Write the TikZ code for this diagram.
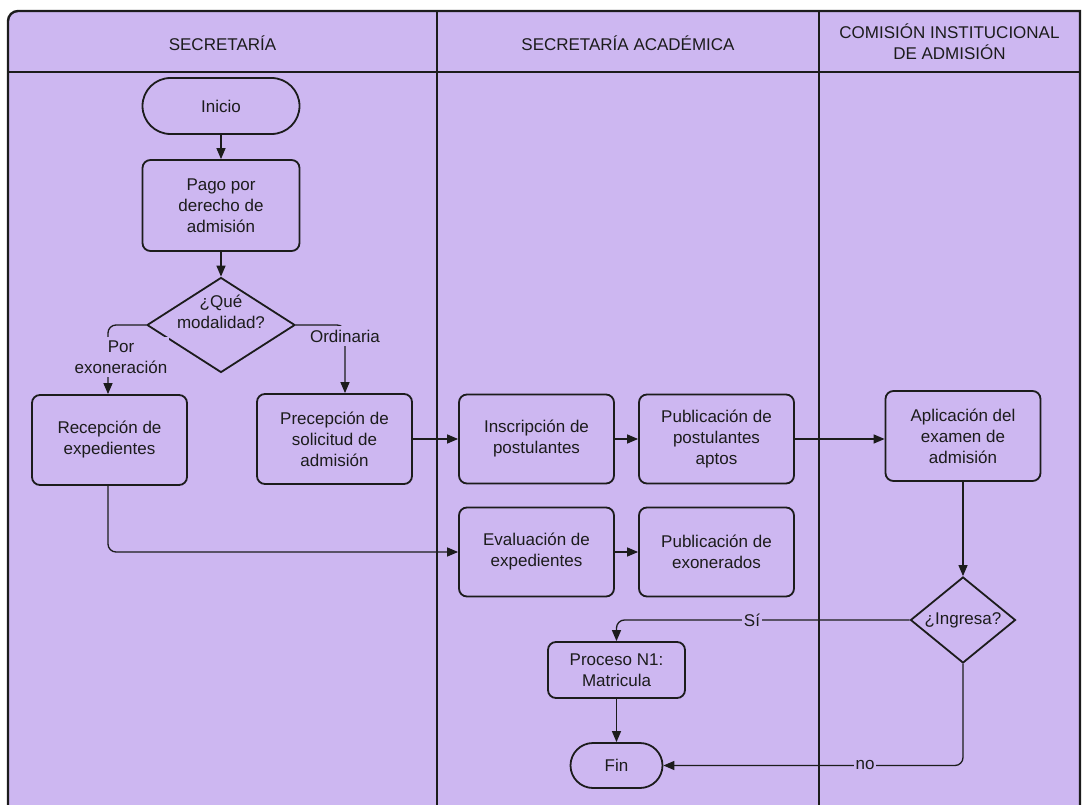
\documentclass[tikz,border=0pt]{standalone}
\usepackage{fontspec}
\setmainfont{Liberation Sans}
\usetikzlibrary{arrows.meta,shapes.geometric}
\definecolor{lane}{RGB}{205,183,241}
\definecolor{ink}{RGB}{28,28,28}
\begin{document}
\begin{tikzpicture}[x=1pt,y=-1pt,
  font=\fontsize{17}{21}\selectfont,
  every node/.style={text=ink},
  box/.style={draw=ink,line width=1.8pt,fill=lane,rounded corners=8pt,align=center,
              inner sep=0pt,minimum width=155pt,minimum height=89pt},
  smallbox/.style={box,minimum width=137pt,minimum height=56pt},
  terminal/.style={draw=ink,line width=1.8pt,fill=lane,align=center,inner sep=0pt},
  decision/.style={draw=ink,line width=1.8pt,fill=lane,diamond,inner sep=0pt},
  flow/.style={draw=ink,line width=1.3pt,rounded corners=8pt,
               -{Triangle[length=11pt,width=9pt]}},
  tag/.style={fill=lane,inner xsep=2pt,inner ysep=4pt,align=center},
  heading/.style={align=center}
]
\useasboundingbox (0,0) rectangle (1082,805);

% swimlane frame
\draw[draw=ink,line width=2.4pt,fill=lane]
  (8,812) -- (8,21) .. controls (8,15.5) and (12.5,11) .. (18,11) -- (1080,11) -- (1080,812);
\draw[ink,line width=2pt] (8,72) -- (1080,72);
\draw[ink,line width=1.5pt] (437,11) -- (437,812);
\draw[ink,line width=1.5pt] (819,11) -- (819,812);

% lane titles
\node[heading] (h1) at (222.5,43) {SECRETARÍA};
\node[heading] (h2) at (628,43) {SECRETARÍA ACADÉMICA};
\node[heading] (h3) at (949.5,42) {COMISIÓN INSTITUCIONAL\\DE ADMISIÓN};

% Secretaría
\node[terminal,rounded corners=28pt,minimum width=157pt,minimum height=56pt] (inicio) at (221,106) {Inicio};
\node[box,minimum width=157pt,minimum height=91pt] (pago) at (221,205.5) {Pago por\\derecho de\\admisión};
\node[decision,minimum width=148pt,minimum height=95pt] (modal) at (221,325) {};
\node[align=center,inner sep=0pt] (modalt) at (221,312) {¿Qué\\modalidad?};
\node[box,minimum height=90pt] (recep) at (109.5,440) {Recepción de\\expedientes};
\node[box,minimum height=90pt] (precep) at (334.5,439) {Precepción de\\solicitud de\\admisión};

% Secretaría Académica
\node[box] (inscr) at (536.5,439) {Inscripción de\\postulantes};
\node[box] (aptos) at (716.5,439) {Publicación de\\postulantes\\aptos};
\node[box] (evalu) at (536.5,552) {Evaluación de\\expedientes};
\node[box] (exon) at (716.5,552) {Publicación de\\exonerados};
\node[smallbox] (proc) at (616.5,670) {Proceso N1:\\Matricula};
\node[terminal,rounded corners=22.5pt,minimum width=92pt,minimum height=45pt] (fin) at (616.5,765.5) {Fin};

% Comisión
\node[box,minimum height=90pt] (aplic) at (963,436) {Aplicación del\\examen de\\admisión};
\node[decision,minimum width=105pt,minimum height=86pt] (ingresa) at (963,620) {};
\node[inner sep=0pt] (ingresat) at (963,620) {¿Ingresa?};

% connectors
\draw[flow] (inicio) -- (pago);
\draw[flow] (pago) -- (modal);
\draw[flow] (modal.west) -| (recep.north -| 108,0);
\node[tag] (porexo) at (121,357) {Por\\exoneración};
\draw[flow] (modal.east) -| ([xshift=10.5pt]precep.north);
\node[tag] (ordin) at (345,336) {Ordinaria};
\draw[flow] (precep.east) -- (inscr.west |- precep.east);
\draw[flow] (recep.south -| 108,0) |- (evalu.west);
\draw[flow] (inscr) -- (aptos);
\draw[flow] (evalu) -- (exon);
\draw[flow] (aptos.east) -- (aplic.west |- aptos.east);
\draw[flow] (aplic) -- (ingresa);
\draw[flow] (ingresa.west) -| (proc.north);
\node[tag] (si) at (752,620) {Sí};
\draw[flow] (proc) -- (fin);
\draw[flow] (ingresa.south) |- (fin.east);
\node[tag] (no) at (865,765.5) {no};
\end{tikzpicture}
\end{document}
